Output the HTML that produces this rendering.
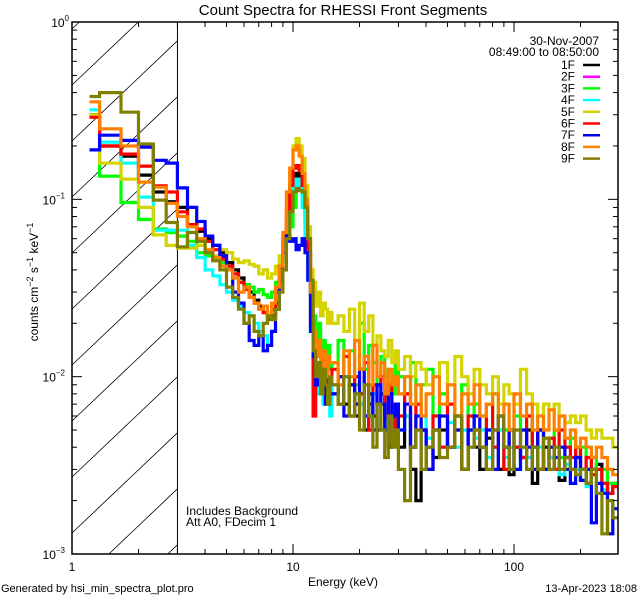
<!DOCTYPE html>
<html><head><meta charset="utf-8">
<style>
html,body{margin:0;padding:0;background:#fff;overflow:hidden;width:640px;height:600px;}
svg{display:block;font-family:"Liberation Sans",sans-serif;}
</style></head>
<body>
<svg id="chart" width="640" height="600" viewBox="0 0 640 600">
<rect width="640" height="600" fill="#fff"/>
<text x="343" y="15" font-size="15" text-anchor="middle">Count Spectra for RHESSI Front Segments</text>
<g id="hatch"></g>
<g id="series"></g>
<g id="axes"></g>
<g id="legend"></g>
<text x="186" y="515" font-size="12">Includes Background</text>
<text x="186" y="526" font-size="12">Att A0, FDecim 1</text>
<text x="343" y="586" font-size="12" text-anchor="middle">Energy (keV)</text>
<text transform="translate(38,282) rotate(-90)" font-size="12" text-anchor="middle">counts cm<tspan dy="-5" font-size="9">−2</tspan><tspan dy="5"> s</tspan><tspan dy="-5" font-size="9">−1</tspan><tspan dy="5"> keV</tspan><tspan dy="-5" font-size="9">−1</tspan></text>
<text x="1" y="592" font-size="11">Generated by hsi_min_spectra_plot.pro</text>
<text x="637" y="592" font-size="11" text-anchor="end">13-Apr-2023 18:08</text>
</svg>
<script>
// ---- data ----
const energyEdges = [1.2,1.333,1.667,2,2.333,2.667,3,3.333,3.667,4,4.333,4.667,5,5.333,5.667,6,6.333,6.667,7,7.333,7.667,8,8.333,8.667,9,9.333,9.667,10,10.333,10.667,11,11.333,11.667,12,12.333,12.667,13,13.333,13.667,14,14.333,14.667,15,
16,17,18,19,20,21,22,23,24,25,26,27,28,29,30,
32,34,36,38,40,43,46,50,54,58,62,66,70,75,80,85,90,95,100,107,114,121,128,136,144,152,160,170,180,190,200,212,224,236,250,265,280,295];
const segNames = ["1F","2F","3F","4F","5F","6F","7F","8F","9F"];
const segColors = ["#000000","#ff00ff","#00ff00","#00ffff","#d4d400","#ff0000","#0000ff","#ff8000","#808000"];
// values in units of 1e-3 counts cm^-2 s^-1 keV^-1
const seg1F = [300,200,175,137,110,97,90,72,66,60,55,50,44,40,36,33,30,27,25,23,22,22,26,32,45,60,90,120,140,130,110,80,50,30,14,10,9,11,8,10,9,7,
8,10,7,9,6,8,5,7,6,5,8,6,4,6,5,
4,6,3,2,5,4,3.5,5,4,6,3,5,4,3,4.5,5,3,4,2.8,4,3.5,5,2.5,3,4,3.5,3,2.6,3.5,3,4,3,2.5,3,3.2,2.5,2.2,2.5];
const seg2F = []; // segment 2 not plotted
const seg3F = [190,135,96,77,68,65,62,58,50,48,46,44,40,36,34,33,32,30,31,29,28,30,34,42,55,60,70,90,120,115,95,70,45,25,22,14,20,12,16,13,15,11,
12,16,10,14,9,20,11,15,12,9,13,10,11,8,12,
10,8,12,7,9,11,6,8,7,6,9,5,7,6,5,8,6,5,4,6,5,6,4,5,4.5,4,5,3.5,4,4.5,3.5,4,3,3.5,3,3,2.5,2.5];
const seg4F = [320,210,160,103,67,67,67,55,47,40,37,33,30,27,25,23,22,20,18,17,15,18,24,32,45,70,100,120,130,115,90,60,35,18,9,12,8,10,7,9,8,6,
9,7,10,6,8,7,9,6,8,7,5,7,6,5,7,
5,6,4,5,6,4.5,5,4,5.5,4,5,4,4.5,5,3.5,4,5,3.5,4,3,4,3.5,3,4,3,3.5,3,2.8,3.2,2.5,3,2.6,2.4,2.8,2.2,2.3,2,1.6];
const seg5F = [300,160,130,90,63,55,53,53,55,50,48,52,50,46,44,45,43,42,38,40,36,38,42,48,60,90,140,200,220,200,170,120,70,40,34,25,30,22,26,24,20,23,
20,22,18,24,16,26,18,22,15,17,14,13,16,12,14,
11,13,10,12,11,9,10,12,9,13,10,8,11,9,8,10,7,9,8,7,11,8,7,6,7,6.5,7,6,5.5,6,5.5,6,5,4.5,5,4.5,4.5,4];
const seg6F = [290,200,180,154,119,110,85,72,68,58,52,46,42,38,34,31,28,26,24,23,21,24,30,42,60,85,120,150,155,145,120,90,50,20,6,12,9,14,8,12,7,9,
11,7,13,6,10,8,12,5,9,7,10,6,9,5,7,
6,8,4,7,5,3,6,4,7,5,3,6,5,4,7,4,6,3,5,4,3.5,6,4,5,3,4.5,3,5,4,3.5,4,3,3.5,2.8,3,2.5,2.2,2.4];
const seg7F = [190,230,215,197,166,160,116,90,75,62,55,48,40,30,26,20,16,15,17,14,15,18,24,35,50,62,58,60,52,55,60,50,35,18,13,9,12,8,10,7,9,8,
8,10,6,9,7,11,6,8,5,9,7,5,8,6,7,
5,7,4,6,5,3,5,6,4,5,3,5,6,4,5,3,6,4,5,3,5,4,3,5,3,4,3.5,4,3,2.5,3.5,2.6,3,1.5,2.5,2.2,1.3,1.8];
const seg8F = [355,250,200,125,117,95,80,70,60,52,47,42,40,36,30,32,28,26,24,25,22,26,32,42,65,110,150,190,200,175,140,100,60,30,18,13,16,11,14,10,13,12,
12,9,14,10,16,11,13,9,15,10,12,8,11,9,10,
8,10,7,9,6,8,10,7,9,6,8,7,9,6,7,8,6,7,5,8,6,7,5,6,5,6.5,5,6,4.5,5,4,4.5,4,3.5,4,3.5,3,2.8];
const seg9F = [380,400,310,205,99,74,54,65,58,50,45,40,32,28,24,20,22,18,17,20,22,21,24,30,40,60,85,110,115,112,110,90,60,35,14,10,12,8,11,9,7,10,
9,7,10,6,8,5,9,6,4,7,5,3.5,6,4,5,
3,2,4,5,3,4,5,3.5,4,6,3,4,5,4,3,5,6,4,3,5,4,3,4,3,4.5,3,4,3,3.5,3,2.8,3,2.5,3,2.2,1.3,2,1.6];
const segValues = [seg1F,seg2F,seg3F,seg4F,seg5F,seg6F,seg7F,seg8F,seg9F];
const xMajorTicks = [1,10,100];
const xMajorLabels = ["1","10","100"];
const yMajorTicks = [1,0.1,0.01,0.001];
const yMajorExp = ["0","−1","−2","−3"];

// ---- axes ----
const L=72, R=618, T=22, B=554;
const XMIN=1, XMAX=Math.pow(10,(R-L)/221);
const YMIN=1e-3, YMAX=1;
function xs(e){return L+(Math.log10(e)-Math.log10(XMIN))/(Math.log10(XMAX)-Math.log10(XMIN))*(R-L);}
function ys(v){return B-(Math.log10(v)-Math.log10(YMIN))/(Math.log10(YMAX)-Math.log10(YMIN))*(B-T);}
const NS="http://www.w3.org/2000/svg";
function mk(tag,attrs,parent){const e=document.createElementNS(NS,tag);for(const k in attrs)e.setAttribute(k,attrs[k]);parent.appendChild(e);return e;}

const svg=document.getElementById('chart');
const defs=mk('defs',{},svg);
const cp=mk('clipPath',{id:'plotclip'},defs);
mk('rect',{x:L,y:T,width:R-L,height:B-T},cp);

// hatch (segments computed inside region, no overflow)
const hatch=document.getElementById('hatch');
const hx2=xs(3);
const slope=0.95;
for(let y0=85-56*3;y0<B+56*3;y0+=56){
  const xa=Math.max(L, L+(y0-B)/slope);
  const xb=Math.min(hx2, L+(y0-T)/slope);
  if(xb<=xa)continue;
  const ln=mk('line',{x1:xa,y1:y0-slope*(xa-L),x2:xb,y2:y0-slope*(xb-L),stroke:'#000','stroke-width':0.8},hatch);
  
  
}
const hb=mk('line',{x1:hx2,y1:T,x2:hx2,y2:B,stroke:'#000','stroke-width':1},hatch);



// series
const sg=document.getElementById('series');
sg.setAttribute('clip-path','url(#plotclip)');
segValues.forEach((vals,si)=>{
  if(!vals.length)return;
  let d='';
  for(let i=0;i<vals.length && i+1<energyEdges.length;i++){
    const y=ys(vals[i]*1e-3);
    const x1=xs(energyEdges[i]), x2=Math.min(R,xs(energyEdges[i+1]));
    d+=(i===0?'M':'L')+x1.toFixed(1)+','+y.toFixed(1)+'L'+x2.toFixed(1)+','+y.toFixed(1);
  }
  const p=mk('path',{d:d,fill:'none',stroke:segColors[si],'stroke-width':3.2,'stroke-linejoin':'miter'},sg);
  
  
});

// axes box & ticks
const ax=document.getElementById('axes');
const box=mk('rect',{x:L,y:T,width:R-L,height:B-T,fill:'none',stroke:'#000','stroke-width':1.5},ax);


for(let dec=0;dec<3;dec++){
  for(let m=1;m<10;m++){
    const e=m*Math.pow(10,dec);
    if(e>XMAX)break;
    const x=xs(e), len=(m===1)?10:5;
    mk('line',{x1:x,y1:B,x2:x,y2:B-len,stroke:'#000','stroke-width':1},ax);
    mk('line',{x1:x,y1:T,x2:x,y2:T+len,stroke:'#000','stroke-width':1},ax);
  }
}
xMajorTicks.forEach((e,i)=>{
  const t=mk('text',{x:xs(e),y:B+17,'font-size':12,'text-anchor':'middle'},ax);
  t.textContent=xMajorLabels[i];
  
  
});
for(let dec=-3;dec<0;dec++){
  for(let m=1;m<10;m++){
    const v=m*Math.pow(10,dec);
    const y=ys(v), len=(m===1)?10:5;
    mk('line',{x1:L,y1:y,x2:L+len,y2:y,stroke:'#000','stroke-width':1},ax);
    mk('line',{x1:R,y1:y,x2:R-len,y2:y,stroke:'#000','stroke-width':1},ax);
  }
}
yMajorTicks.forEach((v,i)=>{
  const t=mk('text',{x:L-3-(i===0?0:4),y:ys(v)+5,'font-size':12,'text-anchor':'end'},ax);
  t.textContent='10';
  const s=mk('tspan',{dy:-6,'font-size':8},t);
  s.textContent=yMajorExp[i];
  
  
});

// legend
const lg=document.getElementById('legend');
const h1=mk('text',{x:599,y:45,'font-size':12,'text-anchor':'end'},lg);
h1.textContent='30-Nov-2007';


const h2=mk('text',{x:599,y:56,'font-size':12,'text-anchor':'end'},lg);
h2.textContent='08:49:00 to 08:50:00';


segNames.forEach((n,i)=>{
  const y=65+i*11.7;
  const g=mk('g',{},lg);
  
  
  const t=mk('text',{x:575,y:y+4,'font-size':12,'text-anchor':'end'},g);
  t.textContent=n;
  mk('line',{x1:583,y1:y,x2:600,y2:y,stroke:segColors[i],'stroke-width':2.5},g);
});
</script>
</body></html>
